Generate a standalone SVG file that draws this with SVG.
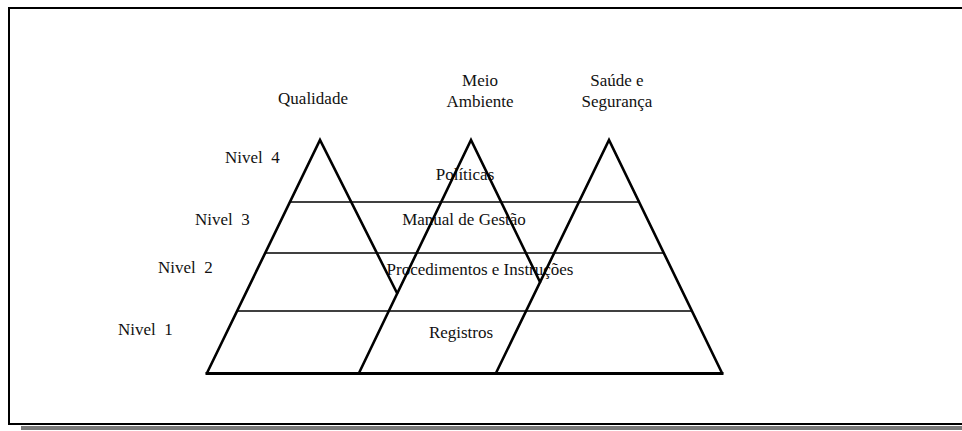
<svg xmlns="http://www.w3.org/2000/svg" width="962" height="431" viewBox="0 0 962 431">
  <style>
    text { font-family: 'Liberation Serif', 'DejaVu Serif', serif; font-size: 17px; fill: #111; }
    .mid { text-anchor: middle; }
    .side { fill: none; stroke: #000; stroke-width: 2.6; stroke-linecap: round; stroke-linejoin: miter; }
    .level { stroke: #000; stroke-width: 1.6; }
    .base { stroke: #000; stroke-width: 3; stroke-linecap: square; }
  </style>

  <!-- frame with drop shadow -->
  <g id="frame">
    <rect x="21" y="426" width="960" height="4" fill="#7a7a7a"/>
    <rect x="9" y="8" width="980" height="416" fill="#fff" stroke="#000" stroke-width="2"/>
  </g>

  <g font-family="Liberation Serif, serif">
    <!-- column headings -->
    <g id="heading-qualidade">
      <text class="mid" x="313" y="104">Qualidade</text>
    </g>
    <g id="heading-meio-ambiente">
      <text class="mid" x="480" y="86">Meio</text>
      <text class="mid" x="480" y="107">Ambiente</text>
    </g>
    <g id="heading-saude-seguranca">
      <text class="mid" x="617" y="86">Saúde e</text>
      <text class="mid" x="617" y="107">Segurança</text>
    </g>

    <!-- level labels -->
    <g id="levels">
      <text x="225" y="163" xml:space="preserve">Nivel  4</text>
      <text x="195" y="225" xml:space="preserve">Nivel  3</text>
      <text x="158" y="273" xml:space="preserve">Nivel  2</text>
      <text x="118" y="335" xml:space="preserve">Nivel  1</text>
    </g>

    <!-- band texts -->
    <g id="bands">
      <text class="mid" x="465" y="180">Políticas</text>
      <text class="mid" x="464" y="225">Manual de Gestão</text>
      <text class="mid" x="480" y="275">Procedimentos e Instruções</text>
      <text class="mid" x="461" y="338">Registros</text>
    </g>
  </g>

  <!-- pyramids and level bands -->
  <g id="connectors">
    <line class="level" x1="290" y1="202" x2="639" y2="202"/>
    <line class="level" x1="265" y1="253" x2="664" y2="253"/>
    <line class="level" x1="237" y1="311" x2="692" y2="311"/>

    <g id="pyramid-qualidade">
      <polyline class="side" points="207,373 320,140 397,293"/>
    </g>
    <g id="pyramid-meio-ambiente">
      <polyline class="side" points="359,373 471,140 540,282"/>
    </g>
    <g id="pyramid-saude-seguranca">
      <polyline class="side" points="496,373 609,140 722,373"/>
    </g>

    <line class="base" x1="207" y1="373.5" x2="722" y2="373.5"/>
  </g>
</svg>
